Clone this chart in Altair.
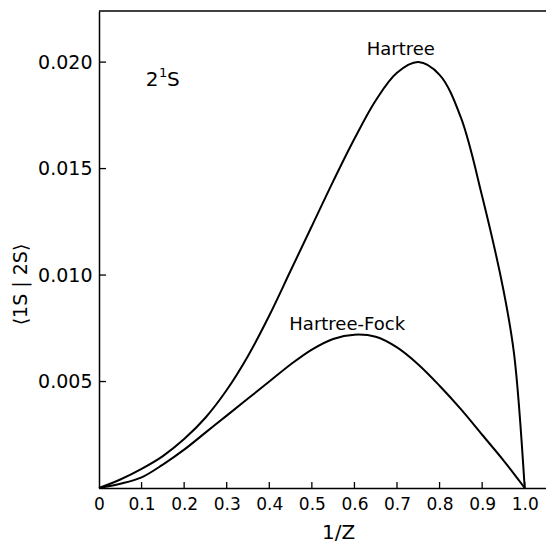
import altair as alt
import pandas as pd

# Hartree curve
h_x = [0, 0.05, 0.1, 0.15, 0.2, 0.25, 0.3, 0.35, 0.4, 0.45, 0.5, 0.55, 0.6, 0.65, 0.7, 0.75, 0.8, 0.85, 0.9, 0.95, 0.975, 1.0]
h_y = [0, 0.0004, 0.0009, 0.0015, 0.0023, 0.0033, 0.0046, 0.0062, 0.0081, 0.0102, 0.0123, 0.0144, 0.0164, 0.0182, 0.0195, 0.0200, 0.0194, 0.0174, 0.0137, 0.0093, 0.0063, 0]
# Hartree-Fock curve
hf_x = [0, 0.05, 0.1, 0.15, 0.2, 0.25, 0.3, 0.35, 0.4, 0.45, 0.5, 0.55, 0.6, 0.65, 0.7, 0.75, 0.8, 0.85, 0.9, 0.95, 1.0]
hf_y = [0, 0.0002, 0.0005, 0.0011, 0.0018, 0.0026, 0.0034, 0.0042, 0.0050, 0.0058, 0.0065, 0.0070, 0.0072, 0.0071, 0.0066, 0.0058, 0.0048, 0.0037, 0.0025, 0.0013, 0]

x_ticks = [0.1, 0.2, 0.3, 0.4, 0.5, 0.6, 0.7, 0.8, 0.9, 1.0]
x_label_vals = [0, 0.1, 0.2, 0.3, 0.4, 0.5, 0.6, 0.7, 0.8, 0.9, 1.0]
y_ticks = [0.005, 0.010, 0.015, 0.020]

W, H = 447, 477
FONT = "DejaVu Sans"

df = pd.concat([
    pd.DataFrame({"x": h_x, "y": h_y, "s": "Hartree"}),
    pd.DataFrame({"x": hf_x, "y": hf_y, "s": "Hartree-Fock"}),
])

xs = alt.Scale(domain=[0, 1.05], nice=False, zero=False)
ys = alt.Scale(domain=[0, 0.0224], nice=False)

xaxis = alt.Axis(values=x_label_vals, labelExpr="datum.value == 0 ? '0' : format(datum.value, '.1f')",
                 ticks=False, grid=False, domainColor="black", domainWidth=1.5,
                 labelFont=FONT, labelFontSize=17, labelColor="black", labelPadding=8,
                 labelFlush=False, title="1/Z", titleFont=FONT, titleFontSize=20,
                 titleFontWeight="normal", titleColor="black", titleX=239, titleY=50,
                 titleBaseline="alphabetic", titleAlign="center")
yaxis = alt.Axis(values=y_ticks, format=".3f", ticks=False, grid=False,
                 domainColor="black", domainWidth=1.5,
                 labelFont=FONT, labelFontSize=19, labelColor="black", labelPadding=7,
                 title="⟨1S | 2S⟩", titleFont=FONT, titleFontSize=19, titleFontWeight="normal",
                 titleColor="black", titleAngle=-90, titleX=-79, titleY=273,
                 titleBaseline="middle", titleAlign="center")

lines = alt.Chart(df).mark_line(color="black", strokeWidth=2, interpolate="catmull-rom").encode(
    x=alt.X("x:Q", scale=xs, axis=xaxis),
    y=alt.Y("y:Q", scale=ys, axis=yaxis),
    detail="s:N",
)

xt = alt.Chart(pd.DataFrame({"v": x_ticks})).mark_rule(color="black", strokeWidth=1.3).encode(
    x=alt.X("v:Q", scale=xs), y=alt.value(H), y2=alt.value(H - 6))
yt = alt.Chart(pd.DataFrame({"v": y_ticks})).mark_rule(color="black", strokeWidth=1.3).encode(
    y=alt.Y("v:Q", scale=ys), x=alt.value(0), x2=alt.value(7))
top = alt.Chart(pd.DataFrame({"a": [0]})).mark_rule(color="black", strokeWidth=1.5).encode(
    y=alt.value(0), x=alt.value(0), x2=alt.value(W))

labels = pd.DataFrame({
    "x": [0.709, 0.583],
    "y": [0.02033, 0.00742],
    "t": ["Hartree", "Hartree-Fock"],
})
lab = alt.Chart(labels).mark_text(font=FONT, fontSize=18, color="black", align="center",
                                  baseline="alphabetic").encode(
    x=alt.X("x:Q", scale=xs), y=alt.Y("y:Q", scale=ys), text="t:N")

st_main = pd.DataFrame({"x": [0.110, 0.160], "y": [0.01887, 0.01887], "t": ["2", "S"]})
st_sup = pd.DataFrame({"x": [0.141], "y": [0.01930], "t": ["1"]})
stm = alt.Chart(st_main).mark_text(font=FONT, fontSize=20, color="black", align="left",
                                   baseline="alphabetic").encode(
    x=alt.X("x:Q", scale=xs), y=alt.Y("y:Q", scale=ys), text="t:N")
sts = alt.Chart(st_sup).mark_text(font=FONT, fontSize=13, color="black", align="left",
                                  baseline="alphabetic").encode(
    x=alt.X("x:Q", scale=xs), y=alt.Y("y:Q", scale=ys), text="t:N")

chart = alt.layer(lines, xt, yt, top, lab, stm, sts).properties(
    width=W, height=H,
    autosize=alt.AutoSizeParams(type="none"),
    padding={"left": 99, "top": 11, "right": 0, "bottom": 54},
    background="white",
).configure_view(stroke=None)

chart.save("out.html", embed_options={"renderer": "svg", "actions": False})
